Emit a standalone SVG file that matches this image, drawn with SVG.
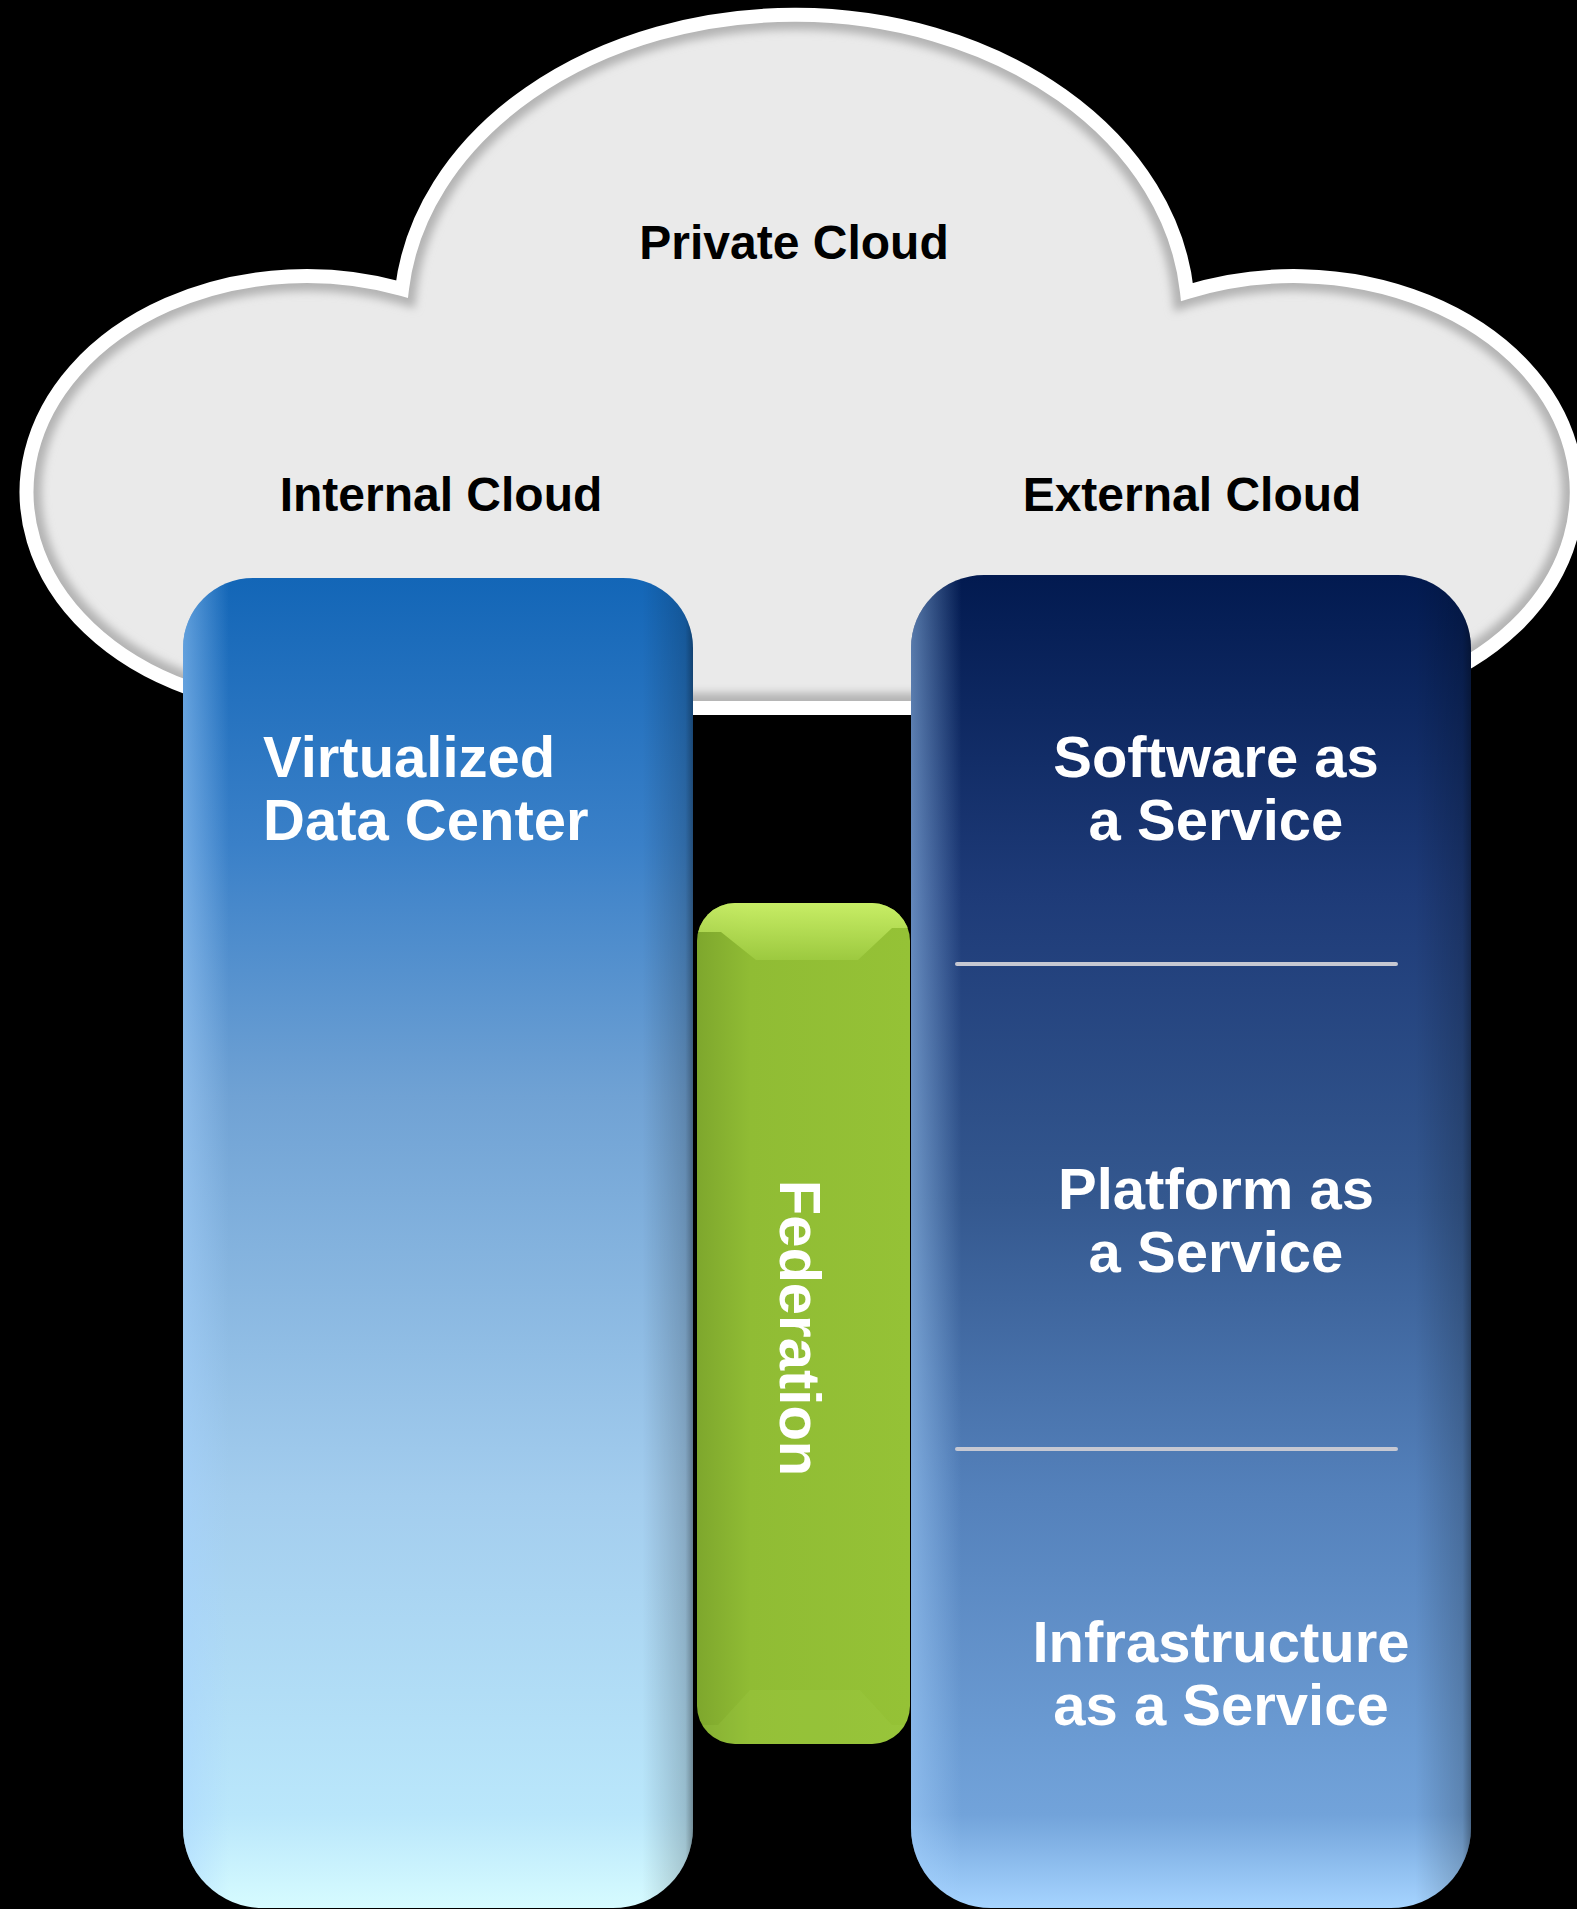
<svg xmlns="http://www.w3.org/2000/svg" width="1577" height="1909" viewBox="0 0 1577 1909">
<defs>
<style>
.lbl{font-family:"Liberation Sans",Arial,Helvetica,sans-serif;font-weight:bold;}
.cloud-t{font-size:48px;fill:#000000;text-anchor:middle;}
.col-t{font-size:58px;fill:#ffffff;}
.mid{text-anchor:middle;}
.sep{stroke:#c6c8d2;stroke-width:4;stroke-linecap:round;}
</style>
<path id="cloudShape" d="M402 289 A394 302 0 0 1 1187 292 A283 216 0 1 1 1300 708 L300 708 A280 216 0 1 1 402 289 Z"/>
<clipPath id="cloudClip"><use href="#cloudShape"/></clipPath>
<filter id="soft" x="-10%" y="-10%" width="120%" height="120%"><feGaussianBlur stdDeviation="4"/></filter>
<linearGradient id="leftGrad" x1="0" y1="0" x2="0" y2="1">
<stop offset="0" stop-color="#1366b7"/>
<stop offset="0.2" stop-color="#3a80c8"/>
<stop offset="0.39" stop-color="#70a2d4"/>
<stop offset="0.69" stop-color="#a3cdee"/>
<stop offset="0.93" stop-color="#bae7fb"/>
<stop offset="1" stop-color="#d6fbff"/>
</linearGradient>
<linearGradient id="rightGrad" x1="0" y1="0" x2="0" y2="1">
<stop offset="0" stop-color="#021a50"/>
<stop offset="0.24" stop-color="#1e3b78"/>
<stop offset="0.47" stop-color="#34588f"/>
<stop offset="0.69" stop-color="#5481bb"/>
<stop offset="0.93" stop-color="#72a3da"/>
<stop offset="1" stop-color="#a6d4ff"/>
</linearGradient>
<linearGradient id="edgeShade" x1="0" y1="0" x2="1" y2="0">
<stop offset="0" stop-color="#a8d4ff" stop-opacity="0.5"/>
<stop offset="0.09" stop-color="#a8d4ff" stop-opacity="0"/>
<stop offset="0.9" stop-color="#000000" stop-opacity="0"/>
<stop offset="0.985" stop-color="#000000" stop-opacity="0.18"/>
<stop offset="1" stop-color="#000000" stop-opacity="0.4"/>
</linearGradient>
<linearGradient id="greenGrad" x1="0" y1="0" x2="1" y2="0">
<stop offset="0" stop-color="#7ea72d"/>
<stop offset="0.25" stop-color="#90bc34"/>
<stop offset="1" stop-color="#95c236"/>
</linearGradient>
<linearGradient id="greenTop" x1="0" y1="0" x2="0" y2="1">
<stop offset="0" stop-color="#dcff78"/>
<stop offset="1" stop-color="#9fcc42"/>
</linearGradient>
<clipPath id="fedClip"><rect x="697" y="903" width="213" height="841" rx="38" ry="38"/></clipPath>
</defs>

<rect x="0" y="0" width="1577" height="1909" fill="#000000"/>

<g id="cloud">
<use href="#cloudShape" fill="#eaeaea"/>
<g clip-path="url(#cloudClip)">
<use href="#cloudShape" fill="none" stroke="#b4b4b4" stroke-width="30" filter="url(#soft)"/>
</g>
<use href="#cloudShape" fill="none" stroke="#ffffff" stroke-width="14"/>
<text class="lbl cloud-t" x="794" y="259">Private Cloud</text>
</g>

<g id="internal-cloud-label">
<text class="lbl cloud-t" x="441" y="511">Internal Cloud</text>
</g>
<g id="external-cloud-label">
<text class="lbl cloud-t" x="1192" y="511">External Cloud</text>
</g>

<g id="virtualized-data-center">
<path d="M183 648 A70 70 0 0 1 253 578 L623 578 A70 70 0 0 1 693 648 L693 1828 A80 80 0 0 1 613 1908 L263 1908 A80 80 0 0 1 183 1828 Z" fill="url(#leftGrad)"/>
<path d="M183 648 A70 70 0 0 1 253 578 L623 578 A70 70 0 0 1 693 648 L693 1828 A80 80 0 0 1 613 1908 L263 1908 A80 80 0 0 1 183 1828 Z" fill="url(#edgeShade)"/>
<text class="lbl col-t" x="263" y="777">Virtualized</text>
<text class="lbl col-t" x="263" y="840">Data Center</text>
</g>

<g id="federation">
<rect x="697" y="903" width="213" height="841" rx="38" ry="38" fill="url(#greenGrad)"/>
<g clip-path="url(#fedClip)">
<path d="M690 895 L915 895 L915 928 L892 928 L858 960 L756 960 L721 932 L690 932 Z" fill="url(#greenTop)" opacity="0.8"/>
<path d="M690 1744 L915 1744 L915 1725 L892 1725 L860 1690 L750 1690 L718 1725 L690 1725 Z" fill="#a6d24a" opacity="0.2"/>
</g>
<text class="lbl col-t mid" transform="translate(780,1328) rotate(90)" x="0" y="0">Federation</text>
</g>

<g id="external-services">
<path d="M911 648 A73 73 0 0 1 984 575 L1398 575 A73 73 0 0 1 1471 648 L1471 1828 A80 80 0 0 1 1391 1908 L991 1908 A80 80 0 0 1 911 1828 Z" fill="url(#rightGrad)"/>
<path d="M911 648 A73 73 0 0 1 984 575 L1398 575 A73 73 0 0 1 1471 648 L1471 1828 A80 80 0 0 1 1391 1908 L991 1908 A80 80 0 0 1 911 1828 Z" fill="url(#edgeShade)"/>
<line class="sep" x1="957" y1="964" x2="1396" y2="964"/>
<line class="sep" x1="957" y1="1449" x2="1396" y2="1449"/>
</g>

<g id="saas">
<text class="lbl col-t mid" x="1216" y="777">Software as</text>
<text class="lbl col-t mid" x="1216" y="840">a Service</text>
</g>
<g id="paas">
<text class="lbl col-t mid" x="1216" y="1209">Platform as</text>
<text class="lbl col-t mid" x="1216" y="1272">a Service</text>
</g>
<g id="iaas">
<text class="lbl col-t mid" x="1221" y="1662">Infrastructure</text>
<text class="lbl col-t mid" x="1221" y="1725">as a Service</text>
</g>

<g id="connectors"/>
</svg>
